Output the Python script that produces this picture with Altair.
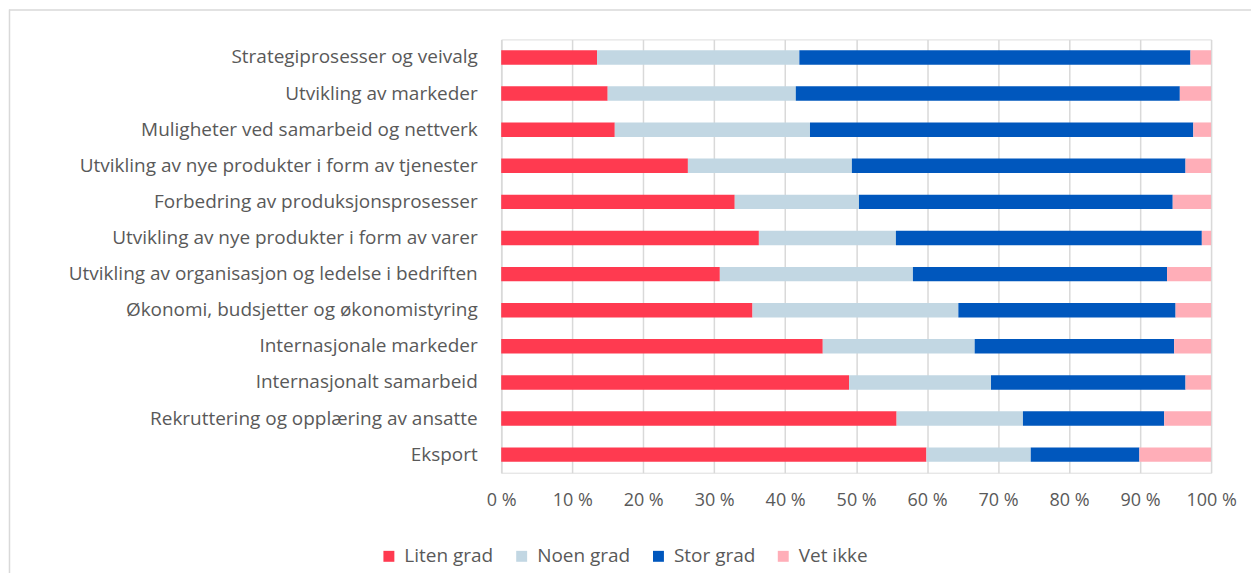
import altair as alt
import pandas as pd

categories = [
    "Strategiprosesser og veivalg",
    "Utvikling av markeder",
    "Muligheter ved samarbeid og nettverk",
    "Utvikling av nye produkter i form av tjenester",
    "Forbedring av produksjonsprosesser",
    "Utvikling av nye produkter i form av varer",
    "Utvikling av organisasjon og ledelse i bedriften",
    "Økonomi, budsjetter og økonomistyring",
    "Internasjonale markeder",
    "Internasjonalt samarbeid",
    "Rekruttering og opplæring av ansatte",
    "Eksport",
]
liten = [13.5, 15.0, 16.0, 26.3, 32.9, 36.3, 30.8, 35.4, 45.3, 49.0, 55.7, 59.9]
noen = [28.5, 26.5, 27.5, 23.1, 17.5, 19.3, 27.2, 29.0, 21.4, 20.0, 17.8, 14.7]
stor = [55.1, 54.1, 54.0, 47.0, 44.2, 43.1, 35.8, 30.6, 28.1, 27.4, 19.9, 15.3]
vet = [2.9, 4.4, 2.5, 3.6, 5.4, 1.3, 6.2, 5.0, 5.2, 3.6, 6.6, 10.1]

series = ["Liten grad", "Noen grad", "Stor grad", "Vet ikke"]
colors = ["#FF3A50", "#C2D7E3", "#0057BD", "#FFAEB8"]
tick_values = [0, 10, 20, 30, 40, 50, 60, 70, 80, 90, 100]

rows = []
for i, c in enumerate(categories):
    for j, (s, vals) in enumerate(zip(series, [liten, noen, stor, vet])):
        rows.append({"Kategori": c, "Serie": s, "Verdi": vals[i], "Rekkefolge": j})
df = pd.DataFrame(rows)

label_color = "#595959"
font = "Open Sans"

bars = alt.Chart(df).mark_bar().encode(
    y=alt.Y(
        "Kategori:N",
        sort=categories,
        scale=alt.Scale(paddingInner=0.6, paddingOuter=0.3),
        axis=alt.Axis(
            title=None, labelFontSize=19, labelColor=label_color, labelPadding=24,
            ticks=False, domainColor="#d9d9d9", domainWidth=1.5, grid=False,
            labelLimit=500, labelFont=font,
        ),
    ),
    x=alt.X(
        "Verdi:Q",
        stack="zero",
        scale=alt.Scale(domain=[0, 100], nice=False),
        axis=alt.Axis(
            title=None, values=tick_values, labelExpr="datum.value + ' %'",
            grid=True, gridColor="#d9d9d9", gridWidth=1.5, domain=False, ticks=False,
            labelPadding=19, labelFontSize=18, labelColor=label_color, labelFont=font,
            labelFlush=False,
        ),
    ),
    color=alt.Color(
        "Serie:N",
        sort=series,
        scale=alt.Scale(domain=series, range=colors),
        legend=alt.Legend(
            orient="none", legendX=-122, legendY=508, direction="horizontal",
            title=None, symbolType="square", symbolSize=120, symbolStrokeWidth=0,
            labelFontSize=19, labelColor=label_color, labelFont=font,
            columnPadding=18, labelOffset=6,
        ),
    ),
    order=alt.Order("Rekkefolge:Q"),
)

border_df = pd.DataFrame({"b": [0]})
top_border = alt.Chart(border_df).mark_rule(color="#d9d9d9", strokeWidth=1.5).encode(
    x=alt.value(-493), x2=alt.value(800), y=alt.value(-29.5)
)
left_border = alt.Chart(border_df).mark_rule(color="#d9d9d9", strokeWidth=1.5).encode(
    x=alt.value(-492.5), y=alt.value(-30), y2=alt.value(600)
)

chart = alt.layer(bars, top_border, left_border).properties(
    width=711,
    height=434,
    autosize=alt.AutoSizeParams(type="none"),
    padding={"left": 494, "top": 31, "right": 40, "bottom": 100},
).configure_view(stroke=None).configure(font=font)

chart.save("out.html", embed_options={"renderer": "svg", "actions": False})
